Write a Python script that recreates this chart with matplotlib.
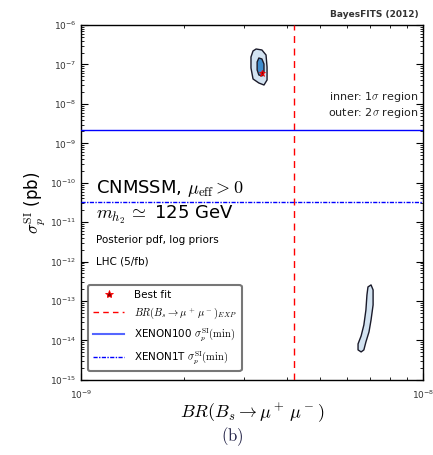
import numpy as np
import matplotlib
matplotlib.use("Agg")
import matplotlib.pyplot as plt
from matplotlib.lines import Line2D
from matplotlib.ticker import NullFormatter, FixedLocator

plt.rcParams["mathtext.fontset"] = "cm"
plt.rcParams["font.family"] = ["DejaVu Sans"]

# ── data (log10 values) ──
BR_EXP = 4.2e-9          # BR(Bs->mu mu) experimental line
XENON100 = 2.2e-9        # sigma_p^SI (pb)
XENON1T = 3.2e-11

BEST_FIT_X = -8.472
BEST_FIT_Y = -7.224

# upper region: 2 sigma (outer) and 1 sigma (inner) outlines
up_outer_x = [-8.488, -8.471, -8.459, -8.456, -8.456, -8.465, -8.480, -8.497, -8.503, -8.503, -8.497]
up_outer_y = [-6.608, -6.633, -6.760, -7.064, -7.394, -7.521, -7.470, -7.368, -7.089, -6.810, -6.658]
up_inner_x = [-8.480, -8.471, -8.465, -8.465, -8.471, -8.480, -8.485, -8.485]
up_inner_y = [-6.836, -6.861, -6.988, -7.191, -7.292, -7.267, -7.140, -6.937]

# lower region: 2 sigma only
low_x = [-8.152, -8.146, -8.146, -8.152, -8.158, -8.167, -8.173, -8.181, -8.190, -8.190,
         -8.181, -8.173, -8.167, -8.164, -8.161]
low_y = [-12.591, -12.718, -13.098, -13.479, -13.783, -14.037, -14.239, -14.290, -14.239, -14.087,
         -13.884, -13.606, -13.225, -12.845, -12.642]

XLIM = (1e-9, 1e-8)
YLIM = (1e-15, 1e-6)

C_OUTER = "#d3e3f1"
C_INNER = "#3f8ccc"

fig = plt.figure(figsize=(4.33, 4.55), dpi=100)
ax = fig.add_axes([0.187, 0.165, 0.790, 0.780])
ax.set_xscale("log")
ax.set_yscale("log")
ax.set_xlim(*XLIM)
ax.set_ylim(*YLIM)

# credible regions
ax.fill(10 ** np.array(up_outer_x), 10 ** np.array(up_outer_y),
        facecolor=C_OUTER, edgecolor="#1a1a2a", linewidth=1.0, joinstyle="round", zorder=2)
ax.fill(10 ** np.array(up_inner_x), 10 ** np.array(up_inner_y),
        facecolor=C_INNER, edgecolor="#1a1a2a", linewidth=1.0, joinstyle="round", zorder=3)
ax.fill(10 ** np.array(low_x), 10 ** np.array(low_y),
        facecolor=C_OUTER, edgecolor="#1a1a2a", linewidth=1.0, joinstyle="round", zorder=2)

# lines
ax.axvline(BR_EXP, color="red", linestyle=(0, (5, 4)), linewidth=1.0, zorder=4)
ax.axhline(XENON100, color="blue", linestyle="-", linewidth=1.0, zorder=4)
ax.axhline(XENON1T, color="blue", linestyle=(0, (3, 1, 1, 1)), linewidth=1.0, zorder=4)
ax.plot(10 ** BEST_FIT_X, 10 ** BEST_FIT_Y, marker="*", markersize=5,
        markerfacecolor="#8b0000", markeredgecolor="red", markeredgewidth=0.6,
        linestyle="none", zorder=5)

# ticks
ax.xaxis.set_major_locator(FixedLocator([1e-9, 1e-8]))
ax.xaxis.set_minor_locator(FixedLocator([k * 1e-9 for k in range(2, 10)]))
ax.yaxis.set_major_locator(FixedLocator([10.0 ** e for e in range(-15, -5)]))
ax.yaxis.set_minor_locator(FixedLocator([k * 10.0 ** e for e in range(-15, -6) for k in range(2, 10)]))
ax.yaxis.set_minor_formatter(NullFormatter())
ax.xaxis.set_minor_formatter(NullFormatter())
ax.tick_params(which="both", direction="in", top=True, right=True, labelsize=6.5,
               labelcolor="#333333")
ax.tick_params(which="major", length=5, width=0.8)
ax.tick_params(which="minor", length=2.5, width=0.6)
ax.tick_params(axis="x", which="major", pad=6)
for sp in ax.spines.values():
    sp.set_linewidth(1.0)

ax.set_xlabel(r"$BR(B_s\rightarrow\mu^+\,\mu^-)$", fontsize=13, labelpad=1)
ax.set_ylabel(r"$\sigma_p^{\rm SI}$ (pb)", fontsize=12, labelpad=2)

# texts
ax.text(0.045, 0.528, r"CNMSSM, $\mu_{\rm eff}>0$", transform=ax.transAxes,
        fontsize=13, va="baseline")
ax.text(0.045, 0.455, r"$m_{h_2}\,\simeq$ 125 GeV", transform=ax.transAxes,
        fontsize=13, va="baseline")
ax.text(0.045, 0.385, "Posterior pdf, log priors", transform=ax.transAxes,
        fontsize=7.5, va="baseline")
ax.text(0.045, 0.325, "LHC (5/fb)", transform=ax.transAxes,
        fontsize=7.5, va="baseline")
ax.text(0.985, 0.79, r"inner: 1$\sigma$ region", transform=ax.transAxes,
        fontsize=8, ha="right", va="baseline", color="#222222")
ax.text(0.985, 0.745, r"outer: 2$\sigma$ region", transform=ax.transAxes,
        fontsize=8, ha="right", va="baseline", color="#222222")
fig.text(0.967, 0.962, "BayesFITS (2012)", fontsize=6.5, ha="right", va="baseline",
         color="#333333", fontweight="bold")
fig.text(0.537, 0.030, r"$\rm (b)$", fontsize=12, ha="center", va="baseline",
         color="#1a1a40")

handles = [
    Line2D([], [], marker="*", markersize=6, markerfacecolor="#8b0000",
           markeredgecolor="red", markeredgewidth=0.6, linestyle="none"),
    Line2D([], [], color="red", linestyle=(0, (4, 3)), linewidth=1.0),
    Line2D([], [], color="#5566ff", linestyle="-", linewidth=1.5),
    Line2D([], [], color="blue", linestyle=(0, (3, 1, 1, 1)), linewidth=1.0),
]
labels = [
    "Best fit",
    r"$BR(B_s\rightarrow\mu^+\,\mu^-)_{EXP}$",
    r"XENON100 $\sigma_p^{\rm SI}(\rm min)$",
    r"XENON1T $\sigma_p^{\rm SI}(\rm min)$",
]
leg = ax.legend(handles, labels, loc="lower left", bbox_to_anchor=(0.005, 0.01),
                fontsize=7.5, frameon=True, fancybox=True, handlelength=3.0,
                borderpad=0.5, labelspacing=0.55, handletextpad=0.9)
leg.get_frame().set_edgecolor("#555555")
leg.get_frame().set_linewidth(1.5)

fig.savefig("out.png", dpi=100)
